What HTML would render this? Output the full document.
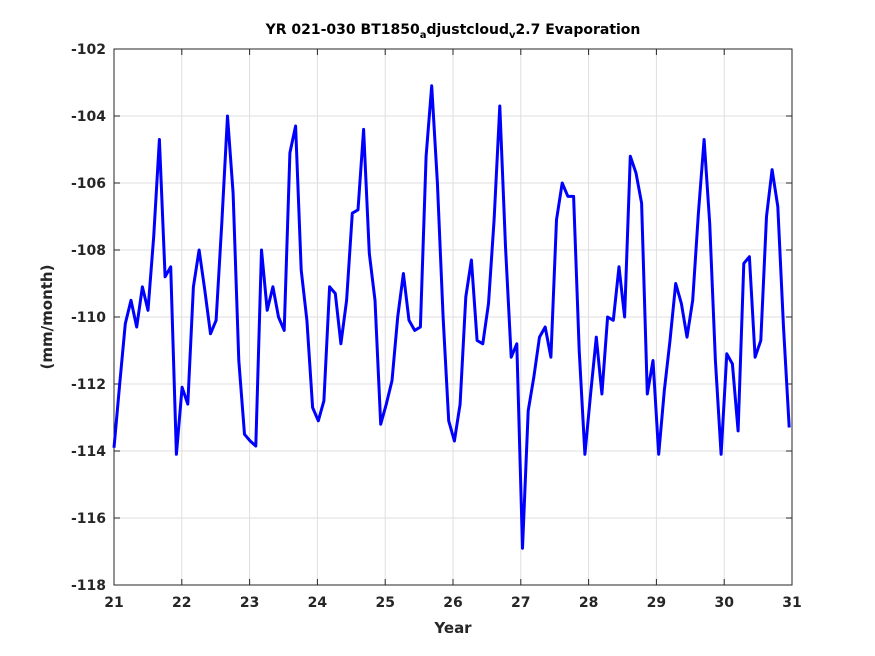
<!DOCTYPE html>
<html><head><meta charset="utf-8"><style>
body{margin:0;background:#fff;}
svg{display:block;font-family:"DejaVu Sans","Liberation Sans",sans-serif;}
</style></head><body>
<svg id="chart" width="875" height="656">
<rect x="0" y="0" width="875" height="656" fill="#fff"/>
<rect x="114" y="49" width="678" height="536" fill="#fff"/>
<g id="grid"></g><g id="axes"></g><g id="series"></g>
<text x="453" y="34" text-anchor="middle" font-size="14" font-weight="bold" fill="#000">YR 021-030 BT1850<tspan font-size="10" dy="4">a</tspan><tspan dy="-4">djustcloud</tspan><tspan font-size="10" dy="4">v</tspan><tspan dy="-4">2.7 Evaporation</tspan></text>
<text x="453" y="633" text-anchor="middle" font-size="15" font-weight="bold" fill="#262626">Year</text>
<text transform="translate(52,317) rotate(-90)" text-anchor="middle" font-size="15" font-weight="bold" fill="#262626">(mm/month)</text>
</svg>
<script>
const xTicks=[21,22,23,24,25,26,27,28,29,30,31];
const yTicks=[-118,-116,-114,-112,-110,-108,-106,-104,-102];
const startYear=21;
const values=[
-113.9,-112.0,-110.2,-109.5,-110.3,-109.1,-109.8,-107.6,-104.7,-108.8,-108.5,-114.1,
-112.1,-112.6,-109.1,-108.0,-109.2,-110.5,-110.1,-107.2,-104.0,-106.3,-111.3,-113.5,
-113.7,-113.85,-108.0,-109.8,-109.1,-110.0,-110.4,-105.1,-104.3,-108.6,-110.1,-112.7,
-113.1,-112.5,-109.1,-109.3,-110.8,-109.5,-106.9,-106.8,-104.4,-108.1,-109.5,-113.2,
-112.6,-111.9,-110.0,-108.7,-110.1,-110.4,-110.3,-105.2,-103.1,-106.0,-110.0,-113.1,
-113.7,-112.6,-109.4,-108.3,-110.7,-110.8,-109.6,-107.1,-103.7,-107.9,-111.2,-110.8,
-116.9,-112.8,-111.8,-110.6,-110.3,-111.2,-107.1,-106.0,-106.4,-106.4,-111.0,-114.1,
-112.3,-110.6,-112.3,-110.0,-110.1,-108.5,-110.0,-105.2,-105.7,-106.6,-112.3,-111.3,
-114.1,-112.2,-110.7,-109.0,-109.6,-110.6,-109.5,-106.9,-104.7,-107.2,-111.3,-114.1,
-111.1,-111.4,-113.4,-108.4,-108.2,-111.2,-110.7,-107.0,-105.6,-106.7,-110.3,-113.3];
const X0=114,X1=792,Y0=585,Y1=49;
function sx(v){return X0+(v-21)/(31-21)*(X1-X0);}
function sy(v){return Y0-(v-(-118))/((-102)-(-118))*(Y0-Y1);}
const NS="http://www.w3.org/2000/svg";
function mk(t,a,p){const e=document.createElementNS(NS,t);for(const k in a)e.setAttribute(k,a[k]);p.appendChild(e);return e;}
const grid=document.getElementById('grid'),axes=document.getElementById('axes'),ser=document.getElementById('series');
xTicks.forEach(t=>{const x=sx(t);
 const g=mk('line',{x1:x,x2:x,y1:Y1,y2:Y0,stroke:'#dfdfdf','stroke-width':1},grid);
 
 
 mk('line',{x1:x,x2:x,y1:Y0,y2:Y0-6,stroke:'#262626'},axes);
 mk('line',{x1:x,x2:x,y1:Y1,y2:Y1+6,stroke:'#262626'},axes);
 const l=mk('text',{x:x,y:Y0+22,'text-anchor':'middle','font-size':14,'font-weight':'bold',fill:'#262626'},axes);
 l.textContent=t;
 
 
});
yTicks.forEach(t=>{const y=sy(t);
 const g=mk('line',{x1:X0,x2:X1,y1:y,y2:y,stroke:'#dfdfdf','stroke-width':1},grid);
 
 
 mk('line',{x1:X0,x2:X0+6,y1:y,y2:y,stroke:'#262626'},axes);
 mk('line',{x1:X1,x2:X1-6,y1:y,y2:y,stroke:'#262626'},axes);
 const l=mk('text',{x:X0-8,y:y+5,'text-anchor':'end','font-size':14,'font-weight':'bold',fill:'#262626'},axes);
 l.textContent=t;
 
 
});
const box=mk('rect',{x:X0,y:Y1,width:X1-X0,height:Y0-Y1,fill:'none',stroke:'#262626','stroke-width':1},axes);


const pts=values.map((v,i)=>sx(startYear+i/11.95).toFixed(1)+','+sy(v).toFixed(1)).join(' ');
const line=mk('polyline',{points:pts,fill:'none',stroke:'#0000ff','stroke-width':3,'stroke-linejoin':'round'},ser);


</script>
</body></html>
